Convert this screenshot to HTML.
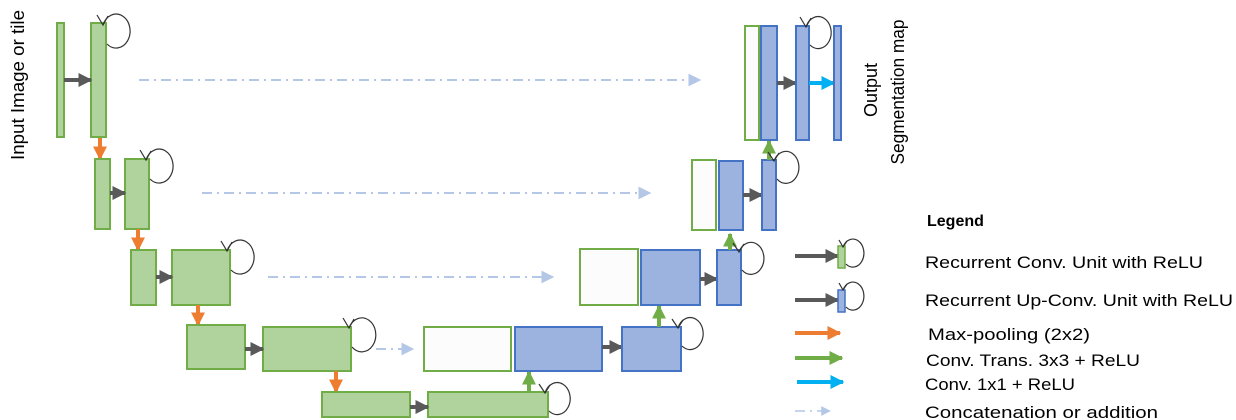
<!DOCTYPE html>
<html><head><meta charset="utf-8"><style>
html,body{margin:0;padding:0;background:#fff;}
svg{display:block;}
text{font-family:"Liberation Sans",sans-serif;fill:#000;}
</style></head><body>
<svg width="1236" height="420" viewBox="0 0 1236 420" xmlns="http://www.w3.org/2000/svg">
<defs>
<marker id="hg" viewBox="0 0 10 10" refX="9" refY="5" markerWidth="3.5" markerHeight="3.5" orient="auto" markerUnits="strokeWidth"><path d="M0,0L10,5L0,10z" fill="#595959"/></marker>
<marker id="ho" viewBox="0 0 10 10" refX="9" refY="5" markerWidth="3.5" markerHeight="3.5" orient="auto" markerUnits="strokeWidth"><path d="M0,0L10,5L0,10z" fill="#ed7d31"/></marker>
<marker id="hn" viewBox="0 0 10 10" refX="9" refY="5" markerWidth="3.5" markerHeight="3.5" orient="auto" markerUnits="strokeWidth"><path d="M0,0L10,5L0,10z" fill="#70ad47"/></marker>
<marker id="hc" viewBox="0 0 10 10" refX="9" refY="5" markerWidth="3.5" markerHeight="3.5" orient="auto" markerUnits="strokeWidth"><path d="M0,0L10,5L0,10z" fill="#00b0f0"/></marker>
<marker id="hd" viewBox="0 0 10 10" refX="9" refY="5" markerWidth="6.5" markerHeight="6.5" orient="auto" markerUnits="strokeWidth"><path d="M0,0L10,5L0,10z" fill="#b4c7e7"/></marker>
</defs>
<style>
.g{fill:#b0d29c;stroke:#70ad47;stroke-width:2}
.b{fill:#9bb3de;stroke:#4472c4;stroke-width:2}
.w{fill:#fcfcfc;stroke:#70ad47;stroke-width:2}
.ag{stroke:#595959;stroke-width:4;marker-end:url(#hg);fill:none}
.ao{stroke:#ed7d31;stroke-width:4;marker-end:url(#ho);fill:none}
.an{stroke:#70ad47;stroke-width:4;marker-end:url(#hn);fill:none}
.ac{stroke:#00b0f0;stroke-width:4;marker-end:url(#hc);fill:none}
.ad{stroke:#b4c7e7;stroke-width:2;stroke-dasharray:10 5 2 5;marker-end:url(#hd);fill:none}
.lp{stroke:#333;stroke-width:1.2;fill:none}
</style>

<rect class="g" x="57" y="23" width="7" height="114"/>
<rect class="g" x="91" y="23" width="15" height="114"/>
<line class="ag" x1="64" y1="80" x2="91" y2="80"/>
<line class="ao" x1="100" y1="138" x2="100" y2="159"/>
<rect class="g" x="95" y="159" width="15" height="70"/>
<rect class="g" x="125" y="159" width="24" height="70"/>
<line class="ag" x1="110" y1="193" x2="125" y2="193"/>
<line class="ao" x1="138" y1="229" x2="138" y2="250"/>
<rect class="g" x="131" y="250" width="25" height="55"/>
<rect class="g" x="172" y="250" width="58" height="55"/>
<line class="ag" x1="156" y1="277" x2="172" y2="277"/>
<line class="ao" x1="198" y1="305" x2="198" y2="325"/>
<rect class="g" x="187" y="325" width="58" height="44"/>
<rect class="g" x="263" y="327" width="88" height="44"/>
<line class="ag" x1="245" y1="349" x2="263" y2="349"/>
<line class="ao" x1="336" y1="371" x2="336" y2="392"/>
<rect class="g" x="322" y="392" width="88" height="25"/>
<rect class="g" x="428" y="392" width="120" height="25"/>
<line class="ag" x1="410" y1="407" x2="428" y2="407"/>
<line class="an" x1="529" y1="392" x2="529" y2="372"/>

<rect class="w" x="424" y="327" width="87" height="44"/>
<rect class="b" x="515" y="327" width="87" height="44"/>
<line class="ag" x1="602" y1="347" x2="622" y2="347"/>
<rect class="b" x="622" y="327" width="59" height="44"/>
<line class="an" x1="659" y1="327" x2="659" y2="306"/>
<rect class="w" x="580" y="249" width="58" height="56"/>
<rect class="b" x="641" y="250" width="59" height="55"/>
<line class="ag" x1="700" y1="279" x2="717" y2="279"/>
<rect class="b" x="717" y="250" width="24" height="55"/>
<line class="an" x1="730" y1="250" x2="730" y2="234"/>
<rect class="w" x="692" y="160" width="24" height="70"/>
<rect class="b" x="719" y="161" width="24" height="69"/>
<line class="ag" x1="743" y1="195" x2="762" y2="195"/>
<rect class="b" x="762" y="160" width="14" height="70"/>
<line class="an" x1="769" y1="160" x2="769" y2="141"/>
<rect class="w" x="745" y="26" width="14" height="114"/>
<rect class="b" x="761" y="26" width="16" height="114"/>
<line class="ag" x1="777" y1="83" x2="796" y2="83"/>
<rect class="b" x="796" y="26" width="13" height="114"/>
<line class="ac" x1="809" y1="83" x2="834" y2="83"/>
<rect class="b" x="834" y="26" width="7" height="114"/>

<line class="ad" x1="139" y1="80" x2="700" y2="80"/>
<line class="ad" x1="202" y1="193" x2="650" y2="193"/>
<line class="ad" x1="268" y1="277" x2="553" y2="277"/>
<line class="ad" x1="376" y1="349" x2="413" y2="349"/>

<g class="lp">
<path d="M103,25 A14,17 0 1 1 107,44"/><path d="M97,15 L103,25 L108,16"/>
<path d="M146,160 A14,17 0 1 1 150,179"/><path d="M140,150 L146,160 L151,151"/>
<path d="M227,251 A14,17 0 1 1 231,270"/><path d="M221,241 L227,251 L232,242"/>
<path d="M349,328 A14,17 0 1 1 352,347"/><path d="M343,318 L349,328 L354,319"/>
<path d="M545,393 A13,16 0 1 1 549,411"/><path d="M539,384 L545,393 L550,385"/>
<path d="M678,328 A13,16 0 1 1 682,346"/><path d="M672,319 L678,328 L683,320"/>
<path d="M739,252 A13,16 0 1 1 742,270"/><path d="M733,243 L739,252 L744,244"/>
<path d="M774,161 A13,16 0 1 1 777,179"/><path d="M768,152 L774,161 L779,153"/>
<path d="M806,27 A13,16 0 1 1 810,45"/><path d="M800,17 L806,27 L811,18"/>
</g>

<text transform="translate(24,85) rotate(-90)" text-anchor="middle" font-size="18" textLength="150" lengthAdjust="spacingAndGlyphs">Input Image or tile</text>
<text transform="translate(877,90) rotate(-90)" text-anchor="middle" font-size="18">Output</text>
<text transform="translate(904,92) rotate(-90)" text-anchor="middle" font-size="18" textLength="145" lengthAdjust="spacingAndGlyphs">Segmentation map</text>

<text x="927" y="226" font-size="16" font-weight="bold">Legend</text>
<line class="ag" x1="795" y1="256" x2="838" y2="256"/>
<rect class="g" x="838" y="246" width="7" height="22" style="stroke-width:1.5"/>
<path class="lp" d="M843,247 A11,14 0 1 1 846,264"/><path class="lp" d="M839,240 L843,247 L847,241"/>
<line class="ag" x1="795" y1="300" x2="838" y2="300"/>
<rect class="b" x="838" y="290" width="7" height="22" style="stroke-width:1.5"/>
<path class="lp" d="M843,290 A11,14 0 1 1 846,307"/><path class="lp" d="M839,283 L843,290 L847,284"/>
<line class="ao" x1="795" y1="333" x2="840" y2="333"/>
<line class="an" x1="795" y1="358" x2="842" y2="358"/>
<line class="ac" x1="797" y1="382" x2="843" y2="382"/>
<line class="ad" x1="795" y1="411" x2="830" y2="411" style="stroke-width:1.5"/>
<text x="925" y="268" font-size="17" textLength="278" lengthAdjust="spacingAndGlyphs">Recurrent Conv. Unit with ReLU</text>
<text x="925" y="306" font-size="17" textLength="308" lengthAdjust="spacingAndGlyphs">Recurrent Up-Conv. Unit with ReLU</text>
<text x="928" y="340" font-size="17" textLength="162" lengthAdjust="spacingAndGlyphs">Max-pooling (2x2)</text>
<text x="926" y="366" font-size="17" textLength="214" lengthAdjust="spacingAndGlyphs">Conv.  Trans. 3x3 + ReLU</text>
<text x="925" y="390" font-size="17" textLength="150" lengthAdjust="spacingAndGlyphs">Conv. 1x1 + ReLU</text>
<text x="925" y="418" font-size="17" textLength="233" lengthAdjust="spacingAndGlyphs">Concatenation or addition</text>
</svg>
</body></html>
